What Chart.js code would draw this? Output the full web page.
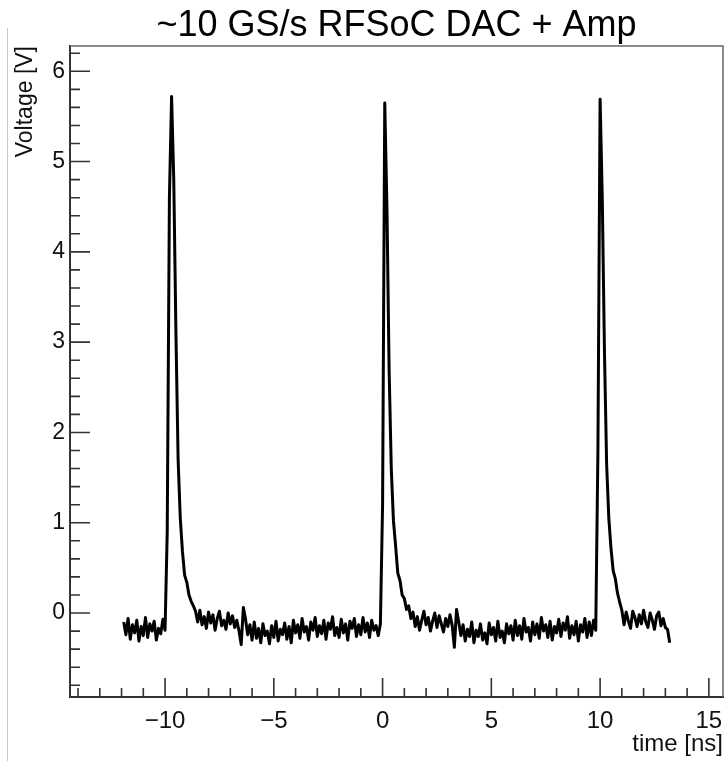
<!DOCTYPE html>
<html lang="en">
<head>
    <meta charset="UTF-8">
    <title>~10 GS/s RFSoC DAC + Amp</title>
    <script src="https://cdn.jsdelivr.net/npm/chart.js@4/dist/chart.umd.min.js"></script>
    <style>
        body {
            margin: 0;
            background: #fff;
        }
        .wrap {
            position: relative;
            width: 726px;
            height: 761px;
        }
        .edge {
            position: absolute;
            left: 7px;
            top: 28px;
            height: 733px;
            border-left: 1px solid #c8c8c8;
        }
    </style>
</head>
<body>
    <div class="wrap">
        <canvas id="pulseChart" width="726" height="761"></canvas>
        <div class="edge"></div>
    </div>

    <script>
        // Sampled waveform (ns, V)
        const timeNs = [
            -11.9, -11.8, -11.7, -11.6, -11.5, -11.4, -11.3, -11.2, -11.1, -11.0,
            -10.9, -10.8, -10.7, -10.6, -10.5, -10.4, -10.3, -10.2, -10.1, -10.0,
            -9.9, -9.8, -9.7, -9.6, -9.5, -9.4, -9.3, -9.2, -9.1, -9.0,
            -8.9, -8.8, -8.7, -8.6, -8.5, -8.4, -8.3, -8.2, -8.1, -8.0,
            -7.9, -7.8, -7.7, -7.6, -7.5, -7.4, -7.3, -7.2, -7.1, -7.0,
            -6.9, -6.8, -6.7, -6.6, -6.5, -6.4, -6.3, -6.2, -6.1, -6.0,
            -5.9, -5.8, -5.7, -5.6, -5.5, -5.4, -5.3, -5.2, -5.1, -5.0,
            -4.9, -4.8, -4.7, -4.6, -4.5, -4.4, -4.3, -4.2, -4.1, -4.0,
            -3.9, -3.8, -3.7, -3.6, -3.5, -3.4, -3.3, -3.2, -3.1, -3.0,
            -2.9, -2.8, -2.7, -2.6, -2.5, -2.4, -2.3, -2.2, -2.1, -2.0,
            -1.9, -1.8, -1.7, -1.6, -1.5, -1.4, -1.3, -1.2, -1.1, -1.0,
            -0.9, -0.8, -0.7, -0.6, -0.5, -0.4, -0.3, -0.2, -0.1, 0.0,
            0.1, 0.2, 0.3, 0.4, 0.5, 0.6, 0.7, 0.8, 0.9, 1.0,
            1.1, 1.2, 1.3, 1.4, 1.5, 1.6, 1.7, 1.8, 1.9, 2.0,
            2.1, 2.2, 2.3, 2.4, 2.5, 2.6, 2.7, 2.8, 2.9, 3.0,
            3.1, 3.2, 3.3, 3.4, 3.5, 3.6, 3.7, 3.8, 3.9, 4.0,
            4.1, 4.2, 4.3, 4.4, 4.5, 4.6, 4.7, 4.8, 4.9, 5.0,
            5.1, 5.2, 5.3, 5.4, 5.5, 5.6, 5.7, 5.8, 5.9, 6.0,
            6.1, 6.2, 6.3, 6.4, 6.5, 6.6, 6.7, 6.8, 6.9, 7.0,
            7.1, 7.2, 7.3, 7.4, 7.5, 7.6, 7.7, 7.8, 7.9, 8.0,
            8.1, 8.2, 8.3, 8.4, 8.5, 8.6, 8.7, 8.8, 8.9, 9.0,
            9.1, 9.2, 9.3, 9.4, 9.5, 9.6, 9.7, 9.8, 9.9, 10.0,
            10.1, 10.2, 10.3, 10.4, 10.5, 10.6, 10.7, 10.8, 10.9, 11.0,
            11.1, 11.2, 11.3, 11.4, 11.5, 11.6, 11.7, 11.8, 11.9, 12.0,
            12.1, 12.2, 12.3, 12.4, 12.5, 12.6, 12.7, 12.8, 12.9, 13.0,
            13.1, 13.2
        ];
        const voltage = [
            -0.10, -0.24, -0.06, -0.29, -0.13, -0.22, -0.08, -0.31, -0.15, -0.25,
            -0.05, -0.27, -0.12, -0.20, -0.09, -0.30, -0.17, -0.23, -0.07, -0.19,
            0.9, 4.6, 5.72, 4.8, 3.1, 1.7, 1.05, 0.68, 0.42, 0.34,
            0.20, 0.13, 0.08, 0.02, -0.10, 0.03, -0.13, -0.04, -0.17, 0.01,
            -0.11, -0.02, -0.19, -0.06, 0.02, -0.14, -0.08, -0.18, 0.00, -0.12,
            -0.03, -0.16, -0.08, -0.20, -0.35, 0.06, -0.07, -0.24, -0.13, -0.30,
            -0.10, -0.28, -0.17, -0.33, -0.12, -0.25, -0.20, -0.34, -0.14, -0.27,
            -0.09, -0.31, -0.18, -0.24, -0.11, -0.29, -0.15, -0.33, -0.08, -0.22,
            -0.13, -0.28, -0.06, -0.21, -0.15, -0.30, -0.10, -0.19, -0.05, -0.26,
            -0.14, -0.23, -0.08, -0.29, -0.11, -0.18, -0.04, -0.25, -0.16, -0.27,
            -0.07, -0.22, -0.12, -0.30, -0.09, -0.17, -0.06, -0.26, -0.13, -0.24,
            -0.05, -0.21, -0.11, -0.27, -0.08, -0.19, -0.14, -0.25, -0.12, 1.2,
            5.65, 4.5, 2.7, 1.6, 1.02, 0.74, 0.44, 0.36, 0.20, 0.16,
            0.04, 0.08, -0.06, 0.01, -0.15, -0.04, -0.19, -0.08, 0.02, -0.13,
            -0.05, -0.20, -0.09, 0.00, -0.16, -0.03, -0.12, -0.21, -0.06, -0.15,
            -0.02, -0.14, -0.38, 0.04, -0.10, -0.25, -0.13, -0.31, -0.18, -0.26,
            -0.10, -0.33, -0.19, -0.26, -0.12, -0.30, -0.22, -0.34, -0.11, -0.24,
            -0.16, -0.31, -0.09, -0.27, -0.20, -0.33, -0.12, -0.23, -0.14, -0.30,
            -0.08, -0.25, -0.14, -0.29, -0.06, -0.21, -0.16, -0.31, -0.10, -0.24,
            -0.12, -0.28, -0.05, -0.20, -0.13, -0.27, -0.09, -0.30, -0.15, -0.22,
            -0.07, -0.26, -0.11, -0.19, -0.04, -0.28, -0.14, -0.24, -0.09, -0.31,
            -0.13, -0.21, -0.06, -0.27, -0.10, -0.25, -0.08, -0.19, 1.8, 5.69,
            4.6, 2.9, 1.65, 1.05, 0.72, 0.47, 0.38, 0.22, 0.12, 0.03,
            -0.13, 0.01, -0.09, -0.17, 0.02, -0.05, -0.15, -0.02, -0.12, 0.03,
            -0.10, -0.16, 0.00, -0.08, -0.18, -0.03, 0.01, -0.14, -0.06, -0.16,
            -0.18, -0.33
        ];

        // Axis ticks
        const xMajorTicks = [-10, -5, 0, 5, 10, 15];
        const xMinorTicks = [-14, -13, -12, -11, -10, -9, -8, -7, -6, -5, -4, -3, -2, -1, 0,
                             1, 2, 3, 4, 5, 6, 7, 8, 9, 10, 11, 12, 13, 14, 15];
        const yMajorTicks = [0, 1, 2, 3, 4, 5, 6];
        const yMinorTicks = [-0.8, -0.6, -0.4, -0.2, 0, 0.2, 0.4, 0.6, 0.8, 1, 1.2, 1.4, 1.6, 1.8,
                             2, 2.2, 2.4, 2.6, 2.8, 3, 3.2, 3.4, 3.6, 3.8, 4, 4.2, 4.4, 4.6, 4.8,
                             5, 5.2, 5.4, 5.6, 5.8, 6, 6.2];

        const font = "'Liberation Sans', Arial, Helvetica, sans-serif";

        function tickLabel(major) {
            return function(value) {
                if (!major.includes(value)) return '';
                return value < 0 ? '\u2212' + Math.abs(value) : String(value);
            };
        }

        // ROOT style frame: ticks point inwards, box closed on top and right
        const frameTicks = {
            id: 'frameTicks',
            afterDraw(chart) {
                const {ctx, chartArea: a, scales: {x, y}} = chart;
                ctx.save();
                ctx.strokeStyle = '#666';
                ctx.lineWidth = 1.5;
                ctx.beginPath();
                ctx.moveTo(a.left, a.top);
                ctx.lineTo(a.right, a.top);
                ctx.lineTo(a.right, a.bottom);
                ctx.stroke();

                ctx.strokeStyle = '#333';
                ctx.lineWidth = 1.6;
                ctx.beginPath();
                x.ticks.forEach(t => {
                    const px = x.getPixelForValue(t.value);
                    const len = xMajorTicks.includes(t.value) ? 19 : 9;
                    ctx.moveTo(px, a.bottom);
                    ctx.lineTo(px, a.bottom - len);
                });
                y.ticks.forEach(t => {
                    const py = y.getPixelForValue(t.value);
                    const len = yMajorTicks.includes(t.value) ? 20 : 10;
                    ctx.moveTo(a.left, py);
                    ctx.lineTo(a.left + len, py);
                });
                ctx.stroke();
                ctx.restore();
            }
        };

        const ctx = document.getElementById('pulseChart').getContext('2d');
        new Chart(ctx, {
            type: 'line',
            data: {
                datasets: [{
                    label: 'Voltage',
                    data: timeNs.map((t, i) => ({x: t, y: voltage[i]})),
                    borderColor: '#000',
                    borderWidth: 3,
                    borderJoinStyle: 'round',
                    pointRadius: 0,
                    tension: 0,
                    fill: false
                }]
            },
            options: {
                responsive: false,
                animation: false,
                devicePixelRatio: 1,
                layout: {
                    padding: {left: 0, right: 3, top: 0, bottom: 0}
                },
                plugins: {
                    legend: {display: false},
                    tooltip: {enabled: false},
                    title: {
                        display: true,
                        fullSize: false,
                        text: '~10 GS/s RFSoC DAC + Amp',
                        color: '#000',
                        font: {family: font, size: 36, weight: 'normal', lineHeight: 1.1},
                        padding: {top: 6.4, bottom: 0}
                    }
                },
                scales: {
                    x: {
                        type: 'linear',
                        min: -14.37,
                        max: 15.65,
                        afterBuildTicks: s => { s.ticks = xMinorTicks.map(v => ({value: v})); },
                        afterFit: s => {
                            s.height = 64;
                            s.paddingLeft = 0;
                            s.paddingRight = 0;
                        },
                        grid: {display: false, drawTicks: false},
                        border: {display: true, color: '#333', width: 2},
                        ticks: {
                            autoSkip: false,
                            maxRotation: 0,
                            padding: 10,
                            color: '#111',
                            font: {family: font, size: 24},
                            callback: tickLabel(xMajorTicks)
                        },
                        title: {
                            display: true,
                            text: 'time [ns]',
                            align: 'end',
                            color: '#111',
                            font: {family: font, size: 24},
                            padding: {top: 0, bottom: 2}
                        }
                    },
                    y: {
                        type: 'linear',
                        min: -0.93,
                        max: 6.28,
                        afterBuildTicks: s => { s.ticks = yMinorTicks.map(v => ({value: v})); },
                        afterFit: s => {
                            s.width = 70;
                            s.paddingTop = 0;
                            s.paddingBottom = 0;
                        },
                        grid: {display: false, drawTicks: false},
                        border: {display: true, color: '#333', width: 2},
                        ticks: {
                            autoSkip: false,
                            padding: 5,
                            color: '#111',
                            font: {family: font, size: 23},
                            callback: tickLabel(yMajorTicks)
                        },
                        title: {
                            display: true,
                            text: 'Voltage [V]',
                            align: 'end',
                            color: '#111',
                            font: {family: font, size: 23},
                            padding: {top: 12, bottom: 0}
                        }
                    }
                }
            },
            plugins: [frameTicks]
        });
    </script>
</body>
</html>
